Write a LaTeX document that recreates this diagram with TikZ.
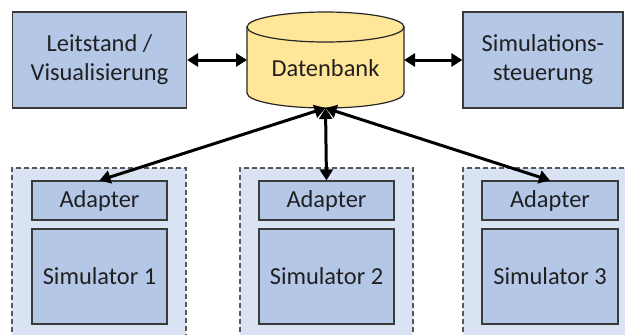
\documentclass[tikz,border=0pt]{standalone}
\usepackage{fontspec}
\setmainfont{Carlito}
\usetikzlibrary{arrows.meta}
\definecolor{boxblue}{HTML}{B4C7E7}
\definecolor{grpblue}{HTML}{DAE3F3}
\definecolor{dbyellow}{HTML}{FFE699}
\definecolor{edgecol}{HTML}{3A3A3A}
\definecolor{txt}{HTML}{202020}
\tikzset{
  bluebox/.style={draw=edgecol, line width=1.2bp, fill=boxblue, align=center, inner sep=0pt,
    text=txt, font=\fontsize{24.5}{29}\selectfont},
  grpfill/.style={fill=grpblue},
  grpline/.style={draw=edgecol!85, dash pattern=on 5bp off 3bp, line width=1.1bp},
  link/.style={line width=3bp, black, {Triangle[length=11bp,width=13bp]}-{Triangle[length=11bp,width=13bp]}},
  dbshape/.style={fill=dbyellow, draw=black!85, line width=1.2bp},
}
\begin{document}
\begin{tikzpicture}[x=1bp,y=-1bp]
\useasboundingbox (0,0) rectangle (625,334);
\fill[white] (0,0) rectangle (625,334);

% top boxes
\node[bluebox, minimum width=174bp, minimum height=96bp] (lv) at (99.5,60) {Leitstand /\\Visualisierung};
\node[bluebox, minimum width=160bp, minimum height=96bp] (sim) at (543,60) {Simulations-\\steuerung};

% database cylinder
\path[dbshape] (247,27) -- (247,93)
  .. controls (247,101.3) and (282.1,108) .. (325.5,108)
  .. controls (368.9,108) and (404,101.3) .. (404,93) -- (404,27) -- cycle;
\path[dbshape] (325.5,27) ellipse [x radius=78.5bp, y radius=15bp];
\node[minimum width=157bp, minimum height=96bp, inner sep=0pt, outer sep=0pt] (db) at (325.5,60) {};
\node[text=txt, font=\fontsize{24.5}{29}\selectfont] (dbtext) at (325.5,68) {Datenbank};

% groups
\foreach \l/\r in {12/186, 240/413, 463/640} {
  \fill[grpblue] (\l,168) rectangle (\r,340);
  \draw[grpline] (\l,340) -- (\l,168) -- (\r,168) -- (\r,340);
}

% adapters and simulators
\node[bluebox, minimum width=135bp, minimum height=39bp] (a1) at (99.5,200.5) {Adapter};
\node[bluebox, minimum width=135bp, minimum height=95bp] (s1) at (99.5,276.5) {Simulator 1};
\node[bluebox, minimum width=135bp, minimum height=39bp] (a2) at (326.5,200.5) {Adapter};
\node[bluebox, minimum width=135bp, minimum height=95bp] (s2) at (326.5,276.5) {Simulator 2};
\node[bluebox, minimum width=136bp, minimum height=39bp] (a3) at (550,200.5) {Adapter};
\node[bluebox, minimum width=136bp, minimum height=95bp] (s3) at (550,276.5) {Simulator 3};

% connectors
\draw[link] (lv.east) -- (db.west);
\draw[link] (db.east) -- (sim.west);
\draw[link] (db.south) -- (a1.north);
\draw[link] (db.south) -- (a2.north);
\draw[link] (db.south) -- (a3.north);
\end{tikzpicture}
\end{document}
